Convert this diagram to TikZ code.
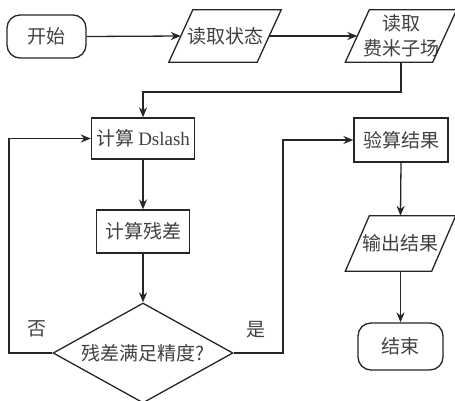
\documentclass[tikz,border=0pt]{standalone}
\usepackage{fontspec}
\setmainfont{Liberation Serif}
\newfontfamily\cjk{Noto Sans CJK SC}
\usetikzlibrary{arrows.meta,shapes.geometric,calc}
\begin{document}
\begin{tikzpicture}[x=1pt,y=-1pt,
  every node/.style={font=\fontsize{19}{25}\selectfont\cjk, text=black!75, inner sep=0pt},
  line/.style={draw=black!85, line width=1.3pt},
  arr/.style={line, -{Stealth[length=10pt,width=8pt]}},
  term/.style={line, rounded corners=13pt},
  proc/.style={line},
  para/.style={minimum height=52pt},
  decision/.style={line, diamond, aspect=1.8, minimum width=180pt, minimum height=100pt}]
\clip (0,0) rectangle (455,400);
\useasboundingbox (0,0) rectangle (455,400);
% nodes
\node[term, minimum width=79pt, minimum height=43pt] (start) at (46.5,36.5) {开始};
\node[para, minimum width=88pt] (read1) at (225,36) {读取状态};
\node[para, minimum width=87pt, align=center] (read2) at (401,36) {读取\\费米子场};
\node[proc, minimum width=103pt, minimum height=41pt] (dslash) at (143,138.5) {计算 {\rmfamily Dslash}};
\node[proc, minimum width=93pt, minimum height=43pt] (resid) at (143,231.5) {计算残差};
\node[decision] (dia) at (143,353) {残差满足精度?};
\node[proc, minimum width=94pt, minimum height=44pt] (verify) at (401,140) {验算结果};
\node[para, minimum width=86pt, minimum height=55pt] (out) at (400.5,243.5) {输出结果};
\node[term, minimum width=85pt, minimum height=47pt] (end) at (400.5,346.5) {结束};
\node (no) at (37,329) {否};
\node (yes) at (256,330) {是};
% parallelogram outlines
\foreach \n in {read1,read2,out}
  \draw[line] ([xshift=-12pt]\n.south west) -- ([xshift=12pt]\n.north west)
     -- ([xshift=12pt]\n.north east) -- ([xshift=-12pt]\n.south east) -- cycle;
% connectors
\coordinate (j1) at (143,92);
\coordinate (nl) at (9,138.5);
\coordinate (nr) at (283,140);
\draw[arr] (start.east) -- (read1.west);
\draw[arr] (read1.east) -- (read2.west);
\draw[arr] (read2.south) |- (j1) -- (dslash.north);
\draw[arr] (dslash.south) -- (resid.north);
\draw[arr] (resid.south) -- (dia.north);
\draw[arr] (dia.west) -| (nl) -- (dslash.west);
\draw[arr] (dia.east) -| (nr) -- (verify.west);
\draw[arr] (verify.south) -- (out.north);
\draw[arr] (out.south) -- (end.north);
\end{tikzpicture}
\end{document}
